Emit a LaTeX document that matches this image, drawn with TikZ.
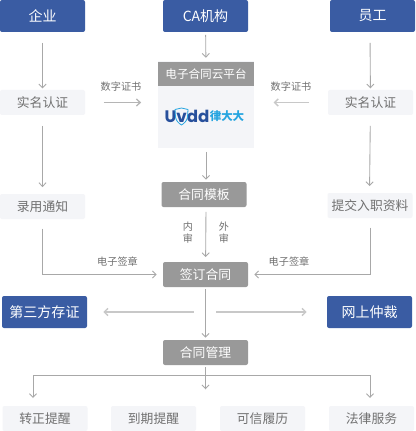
\documentclass[tikz,border=0pt]{standalone}
\usepackage{fontspec}
\setmainfont{Noto Sans CJK SC}
\newfontfamily\logofont{Poppins}
\usepackage{xcolor}
\usetikzlibrary{arrows.meta, calc}
\definecolor{partyblue}{HTML}{3A5CA3}
\definecolor{stepgray}{HTML}{999999}
\definecolor{palebox}{HTML}{F4F5F8}
\definecolor{textgray}{HTML}{707070}
\definecolor{linegray}{HTML}{A8A8A8}
\definecolor{softline}{HTML}{C8C8C8}
\definecolor{logoblue}{HTML}{27509C}
\definecolor{logocyan}{HTML}{25A5E0}

\begin{document}
\begin{tikzpicture}[
    x=0.75pt, y=-0.75pt,
    basebox/.style={rectangle, rounded corners=1.5pt, minimum width=63.75pt, inner sep=0pt, align=center},
    party/.style={basebox, fill=partyblue, text=white, minimum height=24pt, font=\fontsize{10.5pt}{12pt}\selectfont},
    stage/.style={basebox, fill=stepgray, text=white, minimum height=18.75pt, font=\fontsize{9.6pt}{12pt}\selectfont},
    pale/.style={basebox, fill=palebox, text=textgray, minimum height=18.75pt, font=\fontsize{9.6pt}{12pt}\selectfont},
    tag/.style={text=textgray, inner sep=0pt, align=center, font=\fontsize{7.6pt}{9pt}\selectfont},
    arrow/.style={-{Straight Barb[length=2.8pt,width=5.4pt]}, color=linegray, line width=0.65pt},
    softarrow/.style={arrow, color=softline, line width=1pt}
]
\useasboundingbox (0,0) rectangle (415,431);
\fill[white] (0,0) rectangle (415,431);

% --- TOP ROW ---
\node[party] (firm) at (42.5, 16) {企业};
\node[party] (ca) at (205.5, 16) {CA机构};
\node[party] (staff) at (372.5, 16) {员工};

% --- LEFT AND RIGHT COLUMNS ---
\node[pale] (realfirm) at (42.5, 102.5) {实名认证};
\node[pale] (realstaff) at (370.5, 102.5) {实名认证};
\node[pale] (notice) at (42.5, 206.5) {录用通知};
\node[pale] (submit) at (370, 205.5) {提交入职资料};

% --- PLATFORM ---
\node[rectangle, fill=palebox, minimum width=72pt, minimum height=64.5pt, inner sep=0pt] (platform) at (206, 104.5) {};
\node[rectangle, fill=stepgray, text=white, minimum width=72pt, minimum height=18pt, inner sep=0pt, font=\fontsize{8.7pt}{11pt}\selectfont] (platformhead) at (206, 74) {电子合同云平台};
\node[text=logoblue, inner sep=0pt, font=\logofont\bfseries\fontsize{12.5pt}{13pt}\selectfont] (logoname) at (187, 116) {Uvdd};
\node[text=logocyan, inner sep=0pt, font=\bfseries\fontsize{8.6pt}{11pt}\selectfont] (logocn) at (227, 116) {律大大};
\draw[logocyan, line width=0.6pt, line join=round] (175,109.5) -- (181.5,108) -- (188,109.5) -- (187.5,117) .. controls (187,121) and (184,123.5) .. (181.5,125) .. controls (179,123.5) and (176,121) .. (175.5,117) -- cycle;

% --- CENTRE COLUMN ---
\node[stage] (template) at (204, 194.5) {合同模板};
\node[stage] (sign) at (205.5, 274.5) {签订合同};
\node[stage] (manage) at (205.5, 352.5) {合同管理};

\node[party] (evidence) at (44.5, 312) {第三方存证};
\node[party] (arbitrate) at (369.5, 312) {网上仲裁};

% --- BOTTOM ROW ---
\node[pale] (regular) at (45, 418.5) {转正提醒};
\node[pale] (expire) at (153.5, 418.5) {到期提醒};
\node[pale] (resume) at (262.5, 418.5) {可信履历};
\node[pale] (legal) at (371.5, 418.5) {法律服务};

% --- LABELS ---
\node[tag] (certleft) at (121, 87) {数字证书};
\node[tag] (certright) at (291, 87) {数字证书};
\node[tag] (inner) at (188, 233) {内\\审};
\node[tag] (outer) at (224, 233) {外\\审};
\node[tag] (sealleft) at (117.5, 262) {电子签章};
\node[tag] (sealright) at (289, 262) {电子签章};

% --- FLOW ARROWS ---
\draw[arrow, shorten <=8pt, shorten >=1pt] (firm) -- (realfirm);
\draw[arrow, shorten <=8pt, shorten >=5pt] (realfirm) -- (notice);
\draw[arrow, shorten <=2pt, shorten >=3pt] (ca) -- (platformhead);
\draw[arrow, shorten <=8pt, shorten >=1pt] ($(staff.south)+(-2.5,0)$) -- (realstaff);
\draw[arrow, shorten <=8pt, shorten >=5pt] (realstaff) -- ($(submit.north)+(-0.5,0)$);
\draw[arrow, shorten <=3pt, shorten >=1.5pt] (platform.south) -- ($(template.north)+(2,0)$);
\draw[arrow, shorten <=3.5pt, shorten >=3.5pt] ($(template.south)+(2,0)$) -- (sign);

\draw[softarrow, color=linegray!85, shorten <=14pt, shorten >=12.5pt] (realfirm.east) -- (realfirm.east -| platform.west);
\draw[softarrow, shorten <=14pt, shorten >=14.5pt] (realstaff.west) -- (realstaff.west -| platform.east);

\draw[arrow, shorten <=7pt, shorten >=4.5pt] (notice.south) |- (sign.west);
\draw[arrow, shorten <=7pt, shorten >=4.5pt] (submit.south) |- (sign.east);

\draw[arrow, shorten <=1.5pt, shorten >=1.5pt] (sign) -- (manage);
\draw[softarrow, shorten <=9pt, shorten >=12pt] (evidence.east -| sign.south) -- (evidence.east);
\draw[softarrow, shorten <=8pt, shorten >=15pt] (arbitrate.west -| sign.south) -- (arbitrate.west);

% --- OUTCOME ARROWS ---
\draw[arrow, shorten <=1.5pt] (manage.south) -- ++(0,24);
\coordinate (split) at (205.5, 375);
\draw[arrow, shorten >=6pt] (split) -| (33,406);
\draw[arrow, shorten >=6pt] (split) -| (370,406);
\end{tikzpicture}
\end{document}
